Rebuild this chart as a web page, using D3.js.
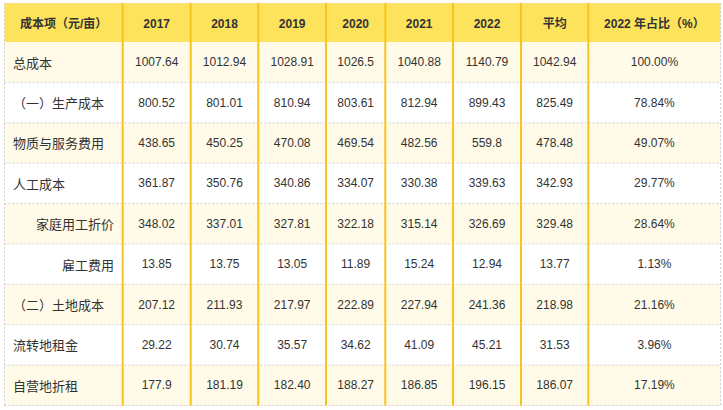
<!DOCTYPE html>
<html><head><meta charset="utf-8">
<script src="https://cdn.jsdelivr.net/npm/d3@7"></script>
<style>
html,body{margin:0;padding:0;background:#fff;}
svg{display:block;}
</style></head>
<body>
<svg id="chart" width="723" height="410"></svg>
<script>
// ---- data ----
const headerLabel = "成本项（元/亩）";
const columns = ["2017", "2018", "2019", "2020", "2021", "2022", "平均", "2022 年占比（%）"];
const rowLabels = ["总成本", "（一）生产成本", "物质与服务费用", "人工成本", "家庭用工折价", "雇工费用", "（二）土地成本", "流转地租金", "自营地折租"];
const v2017 = ["1007.64", "800.52", "438.65", "361.87", "348.02", "13.85", "207.12", "29.22", "177.9"];
const v2018 = ["1012.94", "801.01", "450.25", "350.76", "337.01", "13.75", "211.93", "30.74", "181.19"];
const v2019 = ["1028.91", "810.94", "470.08", "340.86", "327.81", "13.05", "217.97", "35.57", "182.40"];
const v2020 = ["1026.5", "803.61", "469.54", "334.07", "322.18", "11.89", "222.89", "34.62", "188.27"];
const v2021 = ["1040.88", "812.94", "482.56", "330.38", "315.14", "15.24", "227.94", "41.09", "186.85"];
const v2022 = ["1140.79", "899.43", "559.8", "339.63", "326.69", "12.94", "241.36", "45.21", "196.15"];
const vAvg  = ["1042.94", "825.49", "478.48", "342.93", "329.48", "13.77", "218.98", "31.53", "186.07"];
const vShare = ["100.00%", "78.84%", "49.07%", "29.77%", "28.64%", "1.13%", "21.16%", "3.96%", "17.19%"];
const series = [v2017, v2018, v2019, v2020, v2021, v2022, vAvg, vShare];
const subItems = ["家庭用工折价", "雇工费用"];

// ---- layout ----
const svg = d3.select("#chart");
const L = 4.5, R = 720.5, T = 3, HB = 42, B = 405.5;
const colEdges = [L, 122.7, 190.7, 258.3, 326, 385.3, 453, 521, 588.3, R];
const allCols = [headerLabel].concat(columns);
const x0 = d3.scaleOrdinal().domain(allCols).range(colEdges.slice(0, -1));
const x1 = d3.scaleOrdinal().domain(allCols).range(colEdges.slice(1));
const xc = c => (x0(c) + x1(c)) / 2;
const y = d3.scaleBand().domain(rowLabels).range([HB, B]);

const fontNum = "'Liberation Sans', 'Noto Sans CJK SC', sans-serif";
const fontCJK = "'Noto Sans CJK SC', 'Liberation Sans', sans-serif";
const txt = "#333333";

// row backgrounds
svg.append("g").selectAll("rect").data(rowLabels).join("rect")
  .attr("x", L).attr("width", R - L)
  .attr("y", d => y(d)).attr("height", y.bandwidth())
  .attr("fill", (d, i) => i % 2 === 0 ? "#fffbe8" : "#ffffff");

// header background
svg.append("rect").attr("x", L).attr("y", T).attr("width", R - L)
  .attr("height", HB - T).attr("fill", "#fde35c");

// horizontal dashed separators
svg.append("g").selectAll("line").data(rowLabels).join("line")
  .attr("x1", L).attr("x2", R)
  .attr("y1", d => y(d) + y.bandwidth()).attr("y2", d => y(d) + y.bandwidth())
  .attr("stroke", "#cfcfcf").attr("stroke-width", 1).attr("stroke-dasharray", "2,2");
svg.append("line").attr("x1", L).attr("x2", R).attr("y1", T).attr("y2", T)
  .attr("stroke", "#e6e6e6").attr("stroke-dasharray", "2,2");

// outer left/right dashed borders
[L, R].forEach(xx => {
  svg.append("line").attr("x1", xx).attr("x2", xx).attr("y1", T).attr("y2", B)
    .attr("stroke", "#d0d0d0").attr("stroke-dasharray", "2,2");
});

// gold vertical separators
svg.append("g").selectAll("line").data(columns).join("line")
  .attr("x1", d => x0(d)).attr("x2", d => x0(d))
  .attr("y1", T).attr("y2", B)
  .attr("stroke", "#f7c51e").attr("stroke-width", 2);

// header texts
svg.append("g").selectAll("text").data(allCols).join("text")
  .attr("x", d => xc(d)).attr("y", (T + HB) / 2 + 1)
  .attr("text-anchor", "middle").attr("dominant-baseline", "central")
  .attr("font-family", fontNum).attr("font-weight", "bold").attr("font-size", 12)
  .attr("fill", txt).text(d => d);

// row labels
svg.append("g").selectAll("text").data(rowLabels).join("text")
  .attr("x", d => subItems.includes(d) ? 114 : 13)
  .attr("text-anchor", d => subItems.includes(d) ? "end" : "start")
  .attr("y", d => y(d) + y.bandwidth() / 2)
  .attr("dominant-baseline", "central")
  .attr("font-family", fontCJK).attr("font-size", 13)
  .attr("fill", txt).text(d => d);

// values
columns.forEach((c, ci) => {
  svg.append("g").selectAll("text").data(series[ci]).join("text")
    .attr("x", xc(c))
    .attr("y", (d, i) => y(rowLabels[i]) + y.bandwidth() / 2)
    .attr("text-anchor", "middle").attr("dominant-baseline", "central")
    .attr("font-family", fontNum).attr("font-size", 12)
    .attr("fill", txt).text(d => d);
});
</script>
</body></html>
